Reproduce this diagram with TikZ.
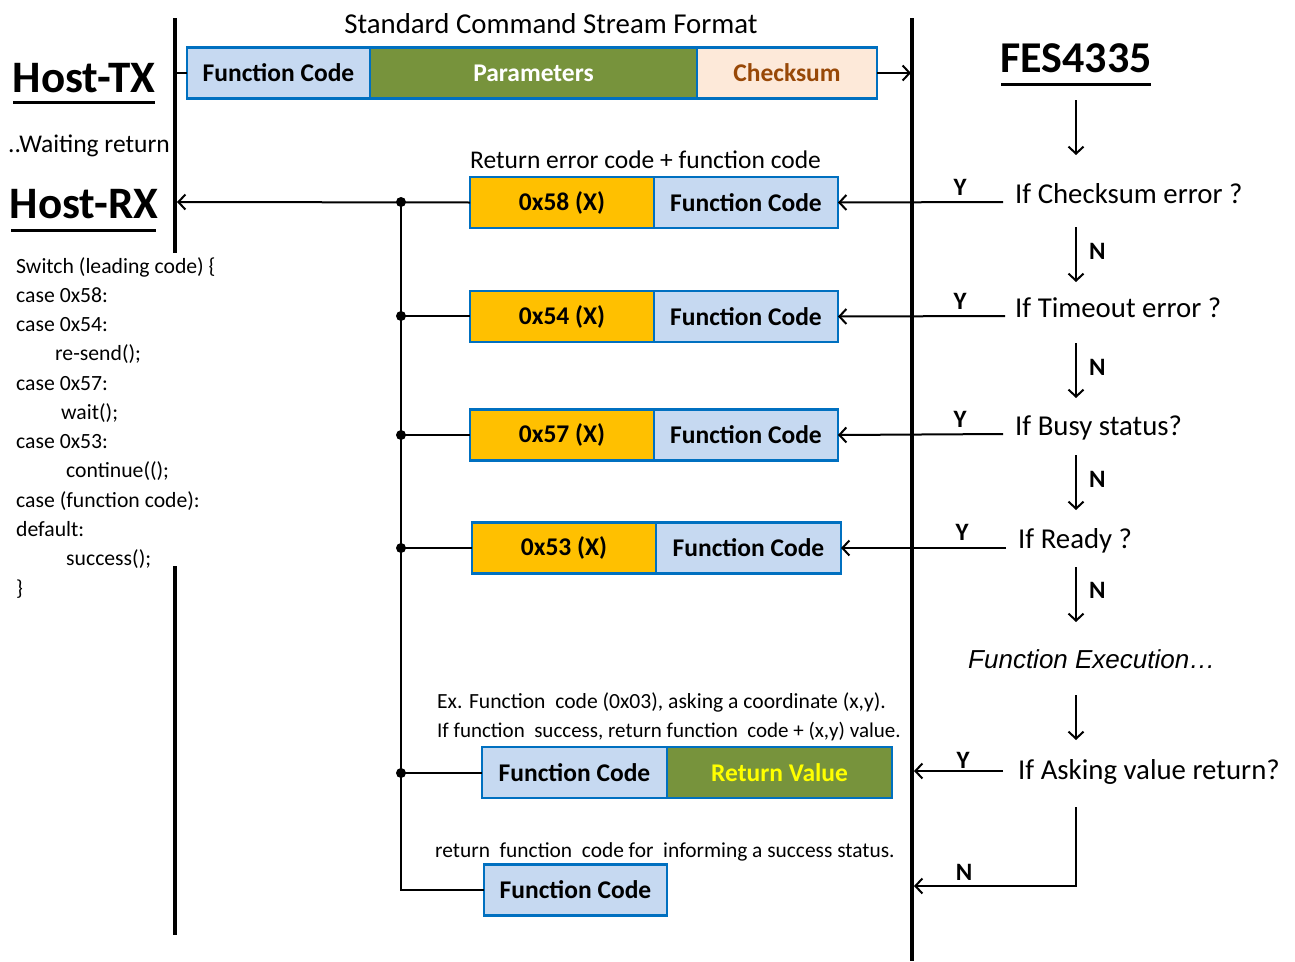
\documentclass[tikz,border=0pt]{standalone}
\usepackage{fontspec}
\setmainfont{Carlito}
\newfontfamily\arialfont{Liberation Sans}
\usetikzlibrary{arrows.meta}
\definecolor{lblue}{HTML}{C6D9F1}
\definecolor{bordblue}{HTML}{0070C0}
\definecolor{pgreen}{HTML}{77933C}
\definecolor{porange}{HTML}{FFC000}
\definecolor{peach}{HTML}{FDE9D9}
\definecolor{brownt}{HTML}{984807}
\definecolor{ryellow}{HTML}{FFFF00}
\begin{document}
\begin{tikzpicture}[x=1pt,y=-1pt,
 cell/.style={draw=bordblue,line width=2.5pt,minimum height=51pt,inner sep=0pt,outer sep=0pt,anchor=west,font=\bfseries\fontsize{25.5}{30}\selectfont},
 fcell/.style={cell,fill=lblue},
 ecell/.style={cell,fill=porange,minimum width=184pt},
 arr/.style={line width=2pt,-{Straight Barb[length=7pt,width=15pt,line width=2pt]}},
 wire/.style={line width=2pt},
 bar/.style={line width=4.5pt},
 txt/.style={inner sep=0pt,anchor=base west,font=\fontsize{22}{26}\selectfont},
 code/.style={inner sep=0pt,anchor=base west,font=\fontsize{21.7}{26}\selectfont},
 cond/.style={inner sep=0pt,anchor=base west,font=\fontsize{28.8}{32}\selectfont},
 big/.style={inner sep=0pt,anchor=base,font=\bfseries\fontsize{45}{50}\selectfont},
 yn/.style={inner sep=0pt,anchor=base,font=\bfseries\fontsize{25}{28}\selectfont},
 dot/.style={circle,fill=black,inner sep=0pt,minimum size=10pt}
]
\useasboundingbox (0,0) rectangle (1295,961);
\fill[white] (0,0) rectangle (1295,961);

% vertical bars
\draw[bar] (175,18) -- (175,253);
\draw[bar] (175,566) -- (175,935);
\draw[bar] (912,18) -- (912,961);
\coordinate (lbtx) at (175,73);
\coordinate (lbrx) at (177,202);

% titles
\node[big] (htx) at (84,92) {Host-TX};
\draw[line width=3pt] (13,102) -- (155,102);
\node[big] (hrx) at (84,218) {Host-RX};
\draw[line width=3pt] (11,230) -- (156,230);
\node[txt,font=\fontsize{25.5}{28}\selectfont] (wait) at (8,152) {..Waiting return};
\node[big,font=\bfseries\fontsize{44}{50}\selectfont] (fes) at (1076,72) {FES4335};
\draw[line width=3pt] (1001,84) -- (1151,84);

% top stream
\node[inner sep=0pt,anchor=base,font=\fontsize{28.8}{32}\selectfont] (sttl) at (551,33) {Standard Command Stream Format};
\node[fcell,minimum width=183pt] (fc0) at (187,73) {Function Code};
\node[cell,fill=pgreen,text=white,minimum width=327pt] (par) at (fc0.east) {Parameters};
\node[cell,fill=peach,text=brownt,minimum width=180pt] (chk) at (par.east) {Checksum};
\draw[wire] (lbtx) -- (fc0.west);
\coordinate (rbtx) at (911,73);
\draw[arr] (chk.east) -- (rbtx);

% return rows
\node[txt,font=\fontsize{25.5}{28}\selectfont] (rettl) at (470,168) {Return error code + function code};
\node[ecell] (e1) at (470,202.5) {0x58 (X)};
\node[fcell,minimum width=184pt] (f1) at (e1.east) {Function Code};
\node[ecell] (e2) at (470,316.5) {0x54 (X)};
\node[fcell,minimum width=184pt] (f2) at (e2.east) {Function Code};
\node[ecell] (e3) at (470,435) {0x57 (X)};
\node[fcell,minimum width=184pt] (f3) at (e3.east) {Function Code};
\node[ecell] (e4) at (472,548) {0x53 (X)};
\node[fcell,minimum width=185pt] (f4) at (e4.east) {Function Code};

\node[txt,font=\fontsize{21.6}{25}\selectfont] (ex1) at (437,708) {Ex. Function\ \ code (0x03), asking a coordinate (x,y).};
\node[txt,font=\fontsize{21}{25}\selectfont] (ex2) at (437,737) {If function\ \ success, return function\ \ code + (x,y) value.};
\node[fcell,minimum width=185pt] (rf) at (482,772.5) {Function Code};
\node[cell,fill=pgreen,text=ryellow,minimum width=225pt] (rv) at (rf.east) {Return Value};
\node[txt,font=\fontsize{21.4}{25}\selectfont] (ex3) at (435,857) {return\ \ function\ \ code for\ \ informing a success status.};
\node[fcell,minimum width=183pt] (bf) at (484,890) {Function Code};

% bus on left
\node[dot] (j1) at (401,202) {};
\node[dot] (j2) at (401,316) {};
\node[dot] (j3) at (401,435) {};
\node[dot] (j4) at (401,548) {};
\node[dot] (j5) at (401,773) {};
\coordinate (jb) at (401,890);
\draw[wire] (j1.center) -- (jb) -- (bf.west);
\draw[arr] (e1.west) -- (lbrx);
\draw[wire] (j2.center) -- (j2.center -| e2.west);
\draw[wire] (j3.center) -- (j3.center -| e3.west);
\draw[wire] (j4.center) -- (j4.center -| e4.west);
\draw[wire] (j5.center) -- (j5.center -| rf.west);

% code listing
\node[code] (l1) at (16,273) {Switch (leading code) \{};
\node[code] (l2) at (16,302.3) {case 0x58:};
\node[code] (l3) at (16,331.5) {case 0x54:};
\node[code] (l4) at (55,360.8) {re-send();};
\node[code] (l5) at (16,390) {case 0x57:};
\node[code] (l6) at (61,419.3) {wait();};
\node[code] (l7) at (16,448.6) {case 0x53:};
\node[code] (l8) at (66,477.9) {continue(();};
\node[code] (l9) at (16,507.2) {case (function code):};
\node[code] (l10) at (16,536.4) {default:};
\node[code] (l11) at (66,565.7) {success();};
\node[code] (l12) at (16,595) {\}};

% flow column
\node[cond] (c1) at (1015,203) {If Checksum error ?};
\node[cond] (c2) at (1015,317) {If Timeout error ?};
\node[cond] (c3) at (1015,435) {If Busy status?};
\node[cond] (c4) at (1018,548) {If Ready ?};
\node[inner sep=0pt,anchor=base west,font=\arialfont\itshape\fontsize{26}{30}\selectfont] (fx) at (968,668) {Function Execution\dots};
\node[cond] (c5) at (1018,779) {If Asking value return?};

\draw[arr] (1076,100) -- (1076,155);
\draw[arr] (1076,227) -- (1076,282);
\draw[arr] (1076,343) -- (1076,398);
\draw[arr] (1076,455) -- (1076,510);
\draw[arr] (1076,567) -- (1076,622);
\draw[arr] (1076,695) -- (1076,740);
\node[yn,anchor=base west] (n1) at (1089,259) {N};
\node[yn,anchor=base west] (n2) at (1089,375) {N};
\node[yn,anchor=base west] (n3) at (1089,487) {N};
\node[yn,anchor=base west] (n4) at (1089,598) {N};

% Y lines
\coordinate (y1s) at (1003,202);
\coordinate (y2s) at (1005,316);
\coordinate (y3s) at (1003,434);
\coordinate (y4s) at (1006,548);
\coordinate (y5s) at (1003,771);
\coordinate (y5e) at (914,771);
\draw[arr] (y1s) -- (f1.east);
\draw[arr] (y2s) -- (f2.east);
\draw[arr] (y3s) -- (f3.east);
\draw[arr] (y4s) -- (f4.east);
\draw[arr] (y5s) -- (y5e);
\node[yn] (ya) at (960,195) {Y};
\node[yn] (yb) at (960,309) {Y};
\node[yn] (yc) at (960,427) {Y};
\node[yn] (yd) at (962,540) {Y};
\node[yn] (ye) at (963,768) {Y};

% N path bottom
\coordinate (nb1) at (1076,807);
\coordinate (nb2) at (1076,886);
\coordinate (nb3) at (914,886);
\draw[arr] (nb1) -- (nb2) -- (nb3);
\node[yn] (nf) at (964,880) {N};
\end{tikzpicture}
\end{document}
